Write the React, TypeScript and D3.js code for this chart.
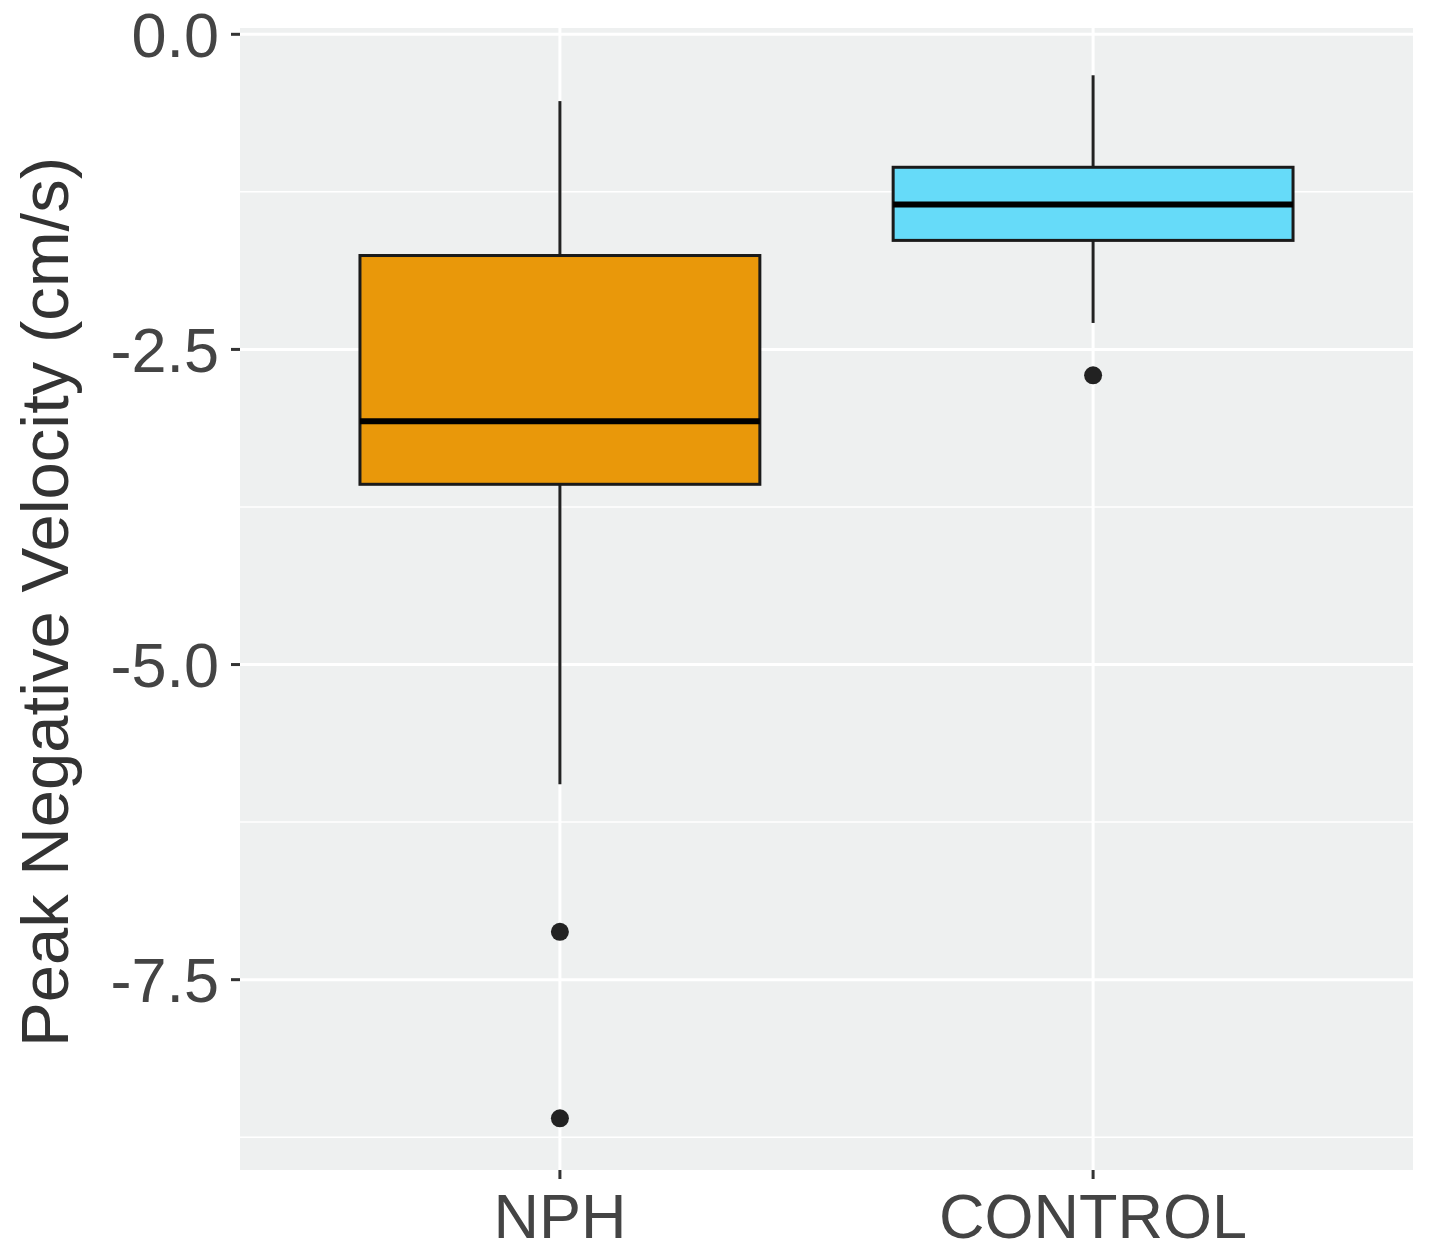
import React from "react";
import * as d3 from "d3";

const categories = ["NPH", "CONTROL"];
const fills = ["#E9980A", "#66DBF9"];
const lowerWhisker = [-5.95, -2.29];
const q1 = [-3.57, -1.635];
const median = [-3.07, -1.35];
const q3 = [-1.755, -1.055];
const upperWhisker = [-0.53, -0.325];
const outliers: { group: string; value: number }[] = [
  { group: "NPH", value: -7.12 },
  { group: "NPH", value: -8.6 },
  { group: "CONTROL", value: -2.705 },
];
const majorTicks = [0, -2.5, -5, -7.5];
const minorTicks = [-1.25, -3.75, -6.25, -8.75];
const yTitle = "Peak Negative Velocity (cm/s)";

const W = 1430;
const H = 1253;
const panel = { left: 240, right: 1413, top: 28, bottom: 1170 };

export default function App() {
  const y = d3.scaleLinear().domain([-9.01, 0.05]).range([panel.bottom, panel.top]);
  // ggplot discrete: positions 1,2 with limits 0.4..2.6
  const xPos = d3.scaleLinear().domain([0.4, 2.6]).range([panel.left, panel.right]);
  const cx = (i: number) => xPos(i + 1);
  const boxHalf = xPos(1.375) - xPos(1);

  return (
    <svg width={W} height={H} style={{ position: "absolute", left: 0, top: 0 }}>
      <rect x={0} y={0} width={W} height={H} fill="#ffffff" />
      <rect
        x={panel.left}
        y={panel.top}
        width={panel.right - panel.left}
        height={panel.bottom - panel.top}
        fill="#EEF0F0"
      />
      {minorTicks.map((t) => (
        <line key={"mi" + t} x1={panel.left} x2={panel.right} y1={y(t)} y2={y(t)} stroke="#ffffff" strokeWidth={1.5} />
      ))}
      {majorTicks.map((t) => (
        <line key={"ma" + t} x1={panel.left} x2={panel.right} y1={y(t)} y2={y(t)} stroke="#ffffff" strokeWidth={3} />
      ))}
      {categories.map((c, i) => (
        <line key={"vx" + c} x1={cx(i)} x2={cx(i)} y1={panel.top} y2={panel.bottom} stroke="#ffffff" strokeWidth={3} />
      ))}

      {categories.map((c, i) => (
        <g key={"box" + c}>
          <line x1={cx(i)} x2={cx(i)} y1={y(upperWhisker[i])} y2={y(q3[i])} stroke="#222" strokeWidth={3} />
          <line x1={cx(i)} x2={cx(i)} y1={y(q1[i])} y2={y(lowerWhisker[i])} stroke="#222" strokeWidth={3} />
          <rect
            x={cx(i) - boxHalf}
            y={y(q3[i])}
            width={boxHalf * 2}
            height={y(q1[i]) - y(q3[i])}
            fill={fills[i]}
            stroke="#1a1a1a"
            strokeWidth={3}
          />
          <line
            x1={cx(i) - boxHalf}
            x2={cx(i) + boxHalf}
            y1={y(median[i])}
            y2={y(median[i])}
            stroke="#000"
            strokeWidth={6}
          />
        </g>
      ))}
      {outliers.map((o, k) => (
        <circle key={"o" + k} cx={cx(categories.indexOf(o.group))} cy={y(o.value)} r={9} fill="#222" />
      ))}

      {majorTicks.map((t) => (
        <g key={"yt" + t}>
          <line x1={panel.left - 9} x2={panel.left} y1={y(t)} y2={y(t)} stroke="#333" strokeWidth={3} />
          <text
            x={219}
            y={y(t)}
            dy="0.36em"
            textAnchor="end"
            fontFamily="Liberation Sans, Arial, sans-serif"
            fontSize={63}
            fill="#444"
          >
            {t.toFixed(1)}
          </text>
        </g>
      ))}
      {categories.map((c, i) => (
        <g key={"xt" + c}>
          <line x1={cx(i)} x2={cx(i)} y1={panel.bottom} y2={panel.bottom + 9} stroke="#333" strokeWidth={3} />
          <text
            x={cx(i)}
            y={1238}
            textAnchor="middle"
            fontFamily="Liberation Sans, Arial, sans-serif"
            fontSize={63}
            fill="#444"
          >
            {c}
          </text>
        </g>
      ))}
      <text
        transform={`translate(68, ${(panel.top + panel.bottom) / 2 + 3}) rotate(-90)`}
        textAnchor="middle"
        fontFamily="Liberation Sans, Arial, sans-serif"
        fontSize={67}
        fill="#333"
      >
        {yTitle}
      </text>
    </svg>
  );
}
